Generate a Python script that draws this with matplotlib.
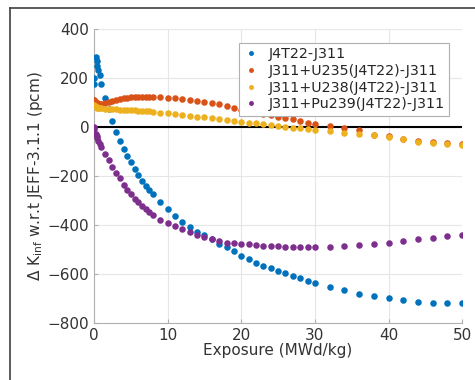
import matplotlib
matplotlib.use("Agg")
import matplotlib.pyplot as plt
from matplotlib.lines import Line2D

exposure = [0, 0.05, 0.25, 0.35, 0.45, 0.6, 0.8, 1.0,
            1.5, 2.0, 2.5, 3.0, 3.5, 4.0, 4.5, 5.0, 5.5, 6.0, 6.5, 7.0, 7.5, 8.0,
            9, 10, 11, 12, 13, 14, 15, 16, 17, 18, 19, 20, 21, 22, 23, 24, 25,
            26, 27, 28, 29, 30,
            32, 34, 36, 38, 40, 42, 44, 46, 48, 50]

j4t22 = [175, 200, 285, 268, 250, 232, 210, 175,
         120, 72, 25, -20, -57, -90, -118, -145, -170, -195, -220, -240, -256, -272,
         -306, -335, -362, -387, -408, -428, -443, -458, -476, -490, -508, -525,
         -539, -554, -566, -577, -588, -597, -607, -616, -628, -637,
         -653, -665, -681, -690, -698, -706, -713, -717, -719, -719]

u235 = [108, 110, 100, 97, 95, 93, 92, 93,
        97, 102, 107, 111, 114, 117, 119, 121, 122, 123, 124, 124, 124, 123,
        121, 119, 117, 114, 110, 107, 103, 99, 93, 86, 79, 70, 63, 58, 52, 48,
        42, 36, 31, 25, 18, 12,
        4, -3, -14, -31, -38, -48, -58, -62, -67, -71]

u238 = [85, 88, 82, 80, 79, 78, 77, 76,
        75, 74, 73, 72, 71, 70, 69, 68, 67, 66, 65, 64, 63, 62,
        58, 56, 52, 49, 45, 42, 40, 36, 33, 29, 26, 22, 18, 15, 11, 8, 4,
        1, -3, -5, -9, -12,
        -16, -23, -29, -34, -40, -50, -60, -64, -69, -73]

pu239 = [0, -8, -28, -38, -46, -56, -68, -80,
         -110, -136, -163, -189, -210, -235, -256, -275, -293, -307, -323, -334, -347, -358,
         -378, -393, -406, -418, -430, -440, -449, -459, -467, -472, -475, -477,
         -479, -482, -484, -486, -487, -488, -489, -490, -490, -490,
         -488, -486, -482, -478, -472, -465, -458, -453, -447, -440]

labels = ["J4T22-J311", "J311+U235(J4T22)-J311",
          "J311+U238(J4T22)-J311", "J311+Pu239(J4T22)-J311"]
colors = ["#0072BD", "#D95319", "#EDB120", "#7E2F8E"]

fig = plt.figure(figsize=(4.75, 3.8), dpi=100)
ax = fig.add_axes([0.198, 0.150, 0.775, 0.774])

for ys, lab, c in zip([j4t22, u235, u238, pu239], labels, colors):
    ax.plot(exposure, ys, 'o', color=c, markersize=4.7, markeredgewidth=0,
            label=lab, zorder=3)

ax.axhline(0, color="black", linewidth=1.5, zorder=2)

ax.set_xlim(0, 50)
ax.set_ylim(-800, 400)
ax.set_xticks([0, 10, 20, 30, 40, 50])
ax.set_yticks([-800, -600, -400, -200, 0, 200, 400])
ax.grid(True, color="#e6e6e6", linewidth=0.8, zorder=0)
ax.set_axisbelow(True)
for s in ["top", "right"]:
    ax.spines[s].set_visible(False)
for s in ["left", "bottom"]:
    ax.spines[s].set_color("#b0b0b0")
    ax.spines[s].set_linewidth(0.8)
ax.tick_params(direction="in", length=3, color="#b0b0b0",
               labelsize=11, labelcolor="#333333")

ax.set_xlabel("Exposure (MWd/kg)", fontsize=11, color="#333333", labelpad=0)
ax.set_ylabel(r"$\Delta$ K$_{\mathrm{inf}}$ w.r.t JEFF-3.1.1 (pcm)",
              fontsize=11, color="#333333", labelpad=2)

leg = ax.legend(loc="upper right", bbox_to_anchor=(0.984, 0.978),
                fontsize=10.3, frameon=True, fancybox=False, framealpha=1,
                edgecolor="#b0b0b0", handlelength=1.2, handletextpad=0.6,
                borderpad=0.3, labelspacing=0.2, markerscale=0.75)
leg.get_frame().set_linewidth(0.8)
for t in leg.get_texts():
    t.set_color("#262626")

# screenshot border
fig.add_artist(Line2D([10/475, 1], [1 - 8/380, 1 - 8/380],
                      transform=fig.transFigure, color="#404040", linewidth=1.2))
fig.add_artist(Line2D([10/475, 10/475], [0, 1 - 8/380],
                      transform=fig.transFigure, color="#404040", linewidth=1.2))

fig.savefig("out.png", dpi=100)
